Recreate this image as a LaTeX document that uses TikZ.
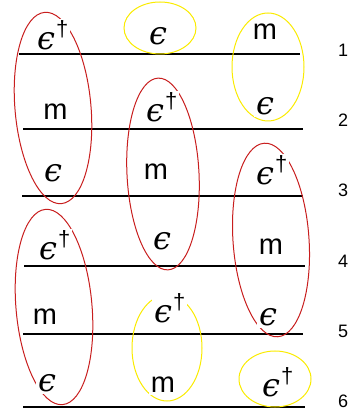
\documentclass[tikz,border=0pt]{standalone}
\usepackage{fontspec}
\setmainfont{Liberation Sans}
\newfontfamily\numfont{Liberation Sans}
\newfontfamily\epsfont{DejaVu Serif}
\definecolor{myred}{RGB}{200,30,30}
\definecolor{myyellow}{RGB}{250,235,0}
\tikzset{
  rule/.style={line width=1.2pt, black},
  redring/.style={draw=myred, line width=1pt},
  yelring/.style={draw=myyellow, line width=1pt},
  lab/.style={fill=white, inner sep=2pt, font=\fontsize{29}{29}\selectfont},
  eps/.style={fill=white, inner sep=2pt, font=\fontsize{32}{32}\selectfont\epsfont\itshape},
  num/.style={inner sep=0pt, font=\fontsize{18}{18}\selectfont\numfont, anchor=base},
}
\newcommand{\epsn}{ϵ}
\newcommand{\epsd}{ϵ\kern1pt\raisebox{13pt}{\fontsize{22}{22}\selectfont\numfont\upshape †}}
\begin{document}
\begin{tikzpicture}[x=1pt,y=1pt]
\useasboundingbox (0,0) rectangle (355,414);
% rules
\coordinate (l1a) at (19,360);  \coordinate (l1b) at (300,360);
\coordinate (l2a) at (23,285);  \coordinate (l2b) at (303,285);
\coordinate (l3a) at (22,218);  \coordinate (l3b) at (303,218);
\coordinate (l4a) at (24,148);  \coordinate (l4b) at (305,148);
\coordinate (l5a) at (23,80);   \coordinate (l5b) at (303,80);
\coordinate (l6a) at (23,7);    \coordinate (l6b) at (305,7);
\draw[rule] (l1a) -- (l1b);
\draw[rule] (l2a) -- (l2b);
\draw[rule] (l3a) -- (l3b);
\draw[rule] (l4a) -- (l4b);
\draw[rule] (l5a) -- (l5b);
\draw[rule] (l6a) -- (l6b);
% ellipses
\draw[redring] (53,306) ellipse [x radius=38pt, y radius=96pt, rotate=5];
\draw[redring] (163,240) ellipse [x radius=36pt, y radius=96pt, rotate=3];
\draw[redring] (271,174) ellipse [x radius=38pt, y radius=97pt, rotate=4];
\draw[redring] (54,107) ellipse [x radius=38pt, y radius=98pt, rotate=5];
\draw[yelring] (160,386) ellipse [x radius=36pt, y radius=26pt];
\draw[yelring] (268,347) ellipse [x radius=36pt, y radius=54pt];
\draw[yelring] (167,66) ellipse [x radius=35pt, y radius=53pt];
\draw[yelring] (275,35) ellipse [x radius=36pt, y radius=28pt];
% column 1
\node[eps, anchor=base west] (a1) at (35,364) {\epsd};
\node[lab, anchor=base] (a2) at (55.5,294) {m};
\node[eps, anchor=base] (a3) at (53,232) {\epsn};
\node[eps, anchor=base west] (a4) at (37,154) {\epsd};
\node[lab, anchor=base] (a5) at (45,89) {m};
\node[eps, anchor=base] (a6) at (47,22) {\epsn};
% column 2
\node[eps, anchor=base] (b1) at (158,369) {\epsn};
\node[eps, anchor=base west] (b2) at (144,292) {\epsd};
\node[lab, anchor=base] (b3) at (156,234) {m};
\node[eps, anchor=base] (b4) at (162,164) {\epsn};
\node[eps, anchor=base west] (b5) at (152,91) {\epsd};
\node[lab, anchor=base] (b6) at (163,21) {m};
% column 3
\node[lab, anchor=base] (c1) at (265,374) {m};
\node[eps, anchor=base] (c2) at (265,299) {\epsn};
\node[eps, anchor=base west] (c3) at (254,229) {\epsd};
\node[lab, anchor=base] (c4) at (271,159) {m};
\node[eps, anchor=base] (c5) at (268,88) {\epsn};
\node[eps, anchor=base west] (c6) at (260,17) {\epsd};
% row numbers
\node[num] (n1) at (343,357) {1};
\node[num] (n2) at (343,287) {2};
\node[num] (n3) at (343,217) {3};
\node[num] (n4) at (343,146) {4};
\node[num] (n5) at (343,76) {5};
\node[num] (n6) at (343,6) {6};
\end{tikzpicture}
\end{document}
